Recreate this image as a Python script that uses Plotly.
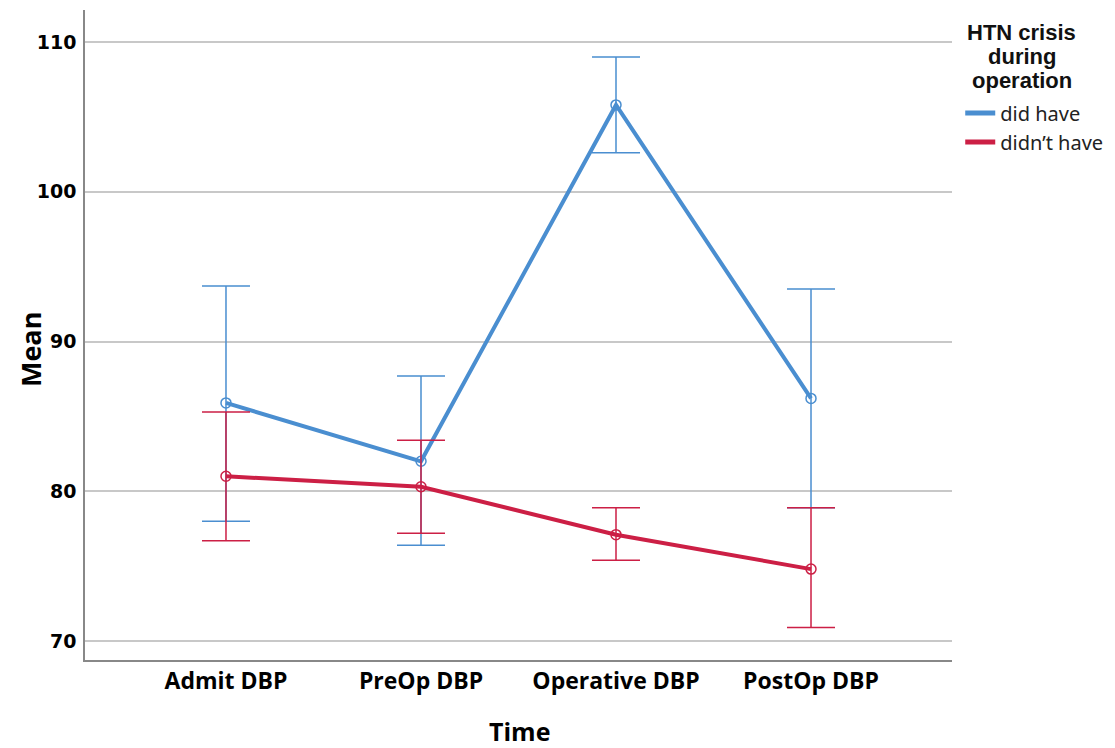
import plotly.graph_objects as go

categories = ["Admit DBP", "PreOp DBP", "Operative DBP", "PostOp DBP"]
did_mean = [85.9, 82.0, 105.8, 86.2]
did_upper = [93.7, 87.7, 109.0, 93.5]
did_lower = [78.0, 76.4, 102.6, 78.9]
didnt_mean = [81.0, 80.3, 77.1, 74.8]
didnt_upper = [85.3, 83.4, 78.9, 78.9]
didnt_lower = [76.7, 77.2, 75.4, 70.9]
y_ticks = [70, 80, 90, 100, 110]
legend_title_lines = ["HTN crisis", "during", "operation"]

BLUE = "#4A8ED0"
RED = "#CC1F45"

x_idx = list(range(len(categories)))

fig = go.Figure()

def add_series(name, mean, upper, lower, color):
    fig.add_trace(go.Scatter(
        x=x_idx, y=mean, name=name, mode="lines+markers", showlegend=False,
        line=dict(color=color, width=4),
        marker=dict(symbol="circle-open", size=10, color=color, line=dict(width=1.5)),
        error_y=dict(type="data", symmetric=False,
                     array=[u - m for u, m in zip(upper, mean)],
                     arrayminus=[m - l for m, l in zip(mean, lower)],
                     color=color, thickness=1.5, width=24),
    ))
    # legend entry (line only, like the reference)
    fig.add_trace(go.Scatter(
        x=[None], y=[None], name=name, mode="lines",
        line=dict(color=color, width=5), showlegend=True,
    ))

add_series("did have", did_mean, did_upper, did_lower, BLUE)
add_series("didn\u2019t have", didnt_mean, didnt_upper, didnt_lower, RED)

fig.update_layout(
    width=1107, height=740,
    margin=dict(l=77, r=163, t=2, b=88, autoexpand=False),
    paper_bgcolor="white", plot_bgcolor="white",
    showlegend=True,
    legend=dict(x=1.0095, y=0.8192, xanchor="left", yanchor="middle",
                bgcolor="rgba(0,0,0,0)", tracegroupgap=0, itemwidth=30,
                font=dict(family="Noto Sans", size=20, color="#222")),
    xaxis=dict(
        range=[-0.723, 3.723], tickmode="array", tickvals=x_idx, ticktext=categories,
        showgrid=False, showline=True, linecolor="#888", linewidth=1.5, zeroline=False,
        tickfont=dict(family="Open Sans", size=23, color="black", weight="bold"),
        ticks="", fixedrange=True, automargin=False,
    ),
    yaxis=dict(
        range=[68.73, 112.14], tickmode="array", tickvals=y_ticks,
        showgrid=True, gridcolor="#C8C8C8", gridwidth=1.5,
        showline=True, linecolor="#888", linewidth=1.5, zeroline=False,
        tickfont=dict(family="DejaVu Sans", size=19, color="black", weight="bold"),
        ticklabelstandoff=3,
        ticks="", fixedrange=True, automargin=False,
    ),
)

# axis titles
fig.add_annotation(xref="paper", yref="paper", x=0.5006, y=-0.109,
                   xanchor="center", yanchor="middle", showarrow=False,
                   text="<b>Time</b>", font=dict(family="Open Sans", size=25, color="black"))
fig.add_annotation(xref="paper", yref="paper", x=-0.0634, y=0.4769,
                   xanchor="center", yanchor="middle", showarrow=False, textangle=-90,
                   text="<b>Mean</b>", font=dict(family="Open Sans", size=27, color="black"))

# legend title, line by line
for line, yf in zip(legend_title_lines, [0.966, 0.9292, 0.8923]):
    fig.add_annotation(
        xref="paper", yref="paper", x=1.0807, y=yf, xanchor="center", yanchor="middle",
        text="<b>" + line + "</b>", showarrow=False,
        font=dict(family="Liberation Sans", size=22, color="#111"),
    )

fig.write_html("out.html")
